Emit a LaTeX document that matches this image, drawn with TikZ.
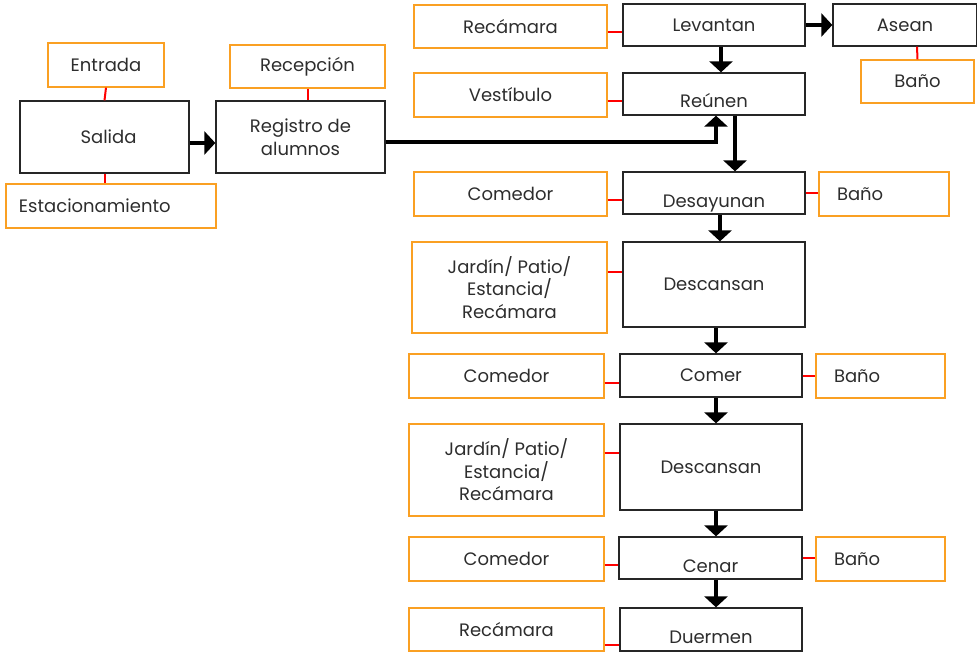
\documentclass[tikz,border=0pt]{standalone}
\usepackage{fontspec}
\setmainfont{Poppins}
\usetikzlibrary{arrows.meta}
\definecolor{boxorange}{RGB}{250,160,35}
\definecolor{inktext}{RGB}{45,45,45}
\newcommand{\lowtext}[2]{\raisebox{#1}[0pt][0pt]{#2}}
\begin{document}
\begin{tikzpicture}[x=1pt, y=-1pt,
        font=\fontsize{18}{22.5}\selectfont, text=inktext,
        mainbox/.style={draw=black!85, line width=1.3pt, minimum width=182pt, minimum height=42pt, align=center, inner sep=0pt},
        placebox/.style={draw=boxorange, line width=1.3pt, minimum width=193pt, minimum height=44pt, align=center, inner sep=0pt},
        sidebox/.style={placebox, minimum width=0pt, text width=93pt, inner xsep=18pt, align=left},
        link/.style={draw=red, line width=2pt},
        flow/.style={draw=black, line width=3.5pt, -{Triangle[length=11pt,width=23pt]}}]
    \useasboundingbox (0,0) rectangle (977,651);
    % izquierda
    \node[placebox, minimum width=116pt] (ent) at (106,65) {Entrada};
    \node[mainbox, minimum width=169pt, minimum height=72pt] (sal) at (104.5,137) {\hspace{8pt}Salida};
    \node[placebox, minimum width=210pt, text width=184pt, align=left] (est) at (111,206) {Estacionamiento};
    \node[placebox, minimum width=155pt, minimum height=43pt] (rcp) at (307.5,66.5) {Recepción};
    \node[mainbox, minimum width=169pt, minimum height=72pt] (reg) at (300.5,137) {Registro de\\alumnos};
    % columna de actividades
    \node[placebox, minimum height=43pt] (rec1) at (510.5,26.5) {Recámara};
    \node[mainbox] (lev) at (714,25) {Levantan};
    \node[mainbox, minimum width=144pt] (ase) at (905,25) {Asean};
    \node[placebox, minimum width=113pt, minimum height=43pt] (ban1) at (917.5,81.5) {Baño};
    \node[placebox] (ves) at (510.5,95) {Vestíbulo};
    \node[mainbox] (reu) at (714,94) {\lowtext{-13pt}{Reúnen}};
    \node[placebox] (com1) at (510.5,194) {Comedor};
    \node[mainbox] (des) at (714,193) {\lowtext{-14pt}{Desayunan}};
    \node[sidebox, text width=94pt, inner xsep=18pt] (ban2) at (884,194) {Baño};
    \node[placebox, minimum width=195pt, minimum height=91pt] (jar1) at (509.5,287.5) {Jardín/ Patio/\\Estancia/\\Recámara};
    \node[mainbox, minimum height=85pt] (dsc1) at (714,284.5) {Descansan};
    \node[placebox, minimum width=195pt] (com2) at (506.5,376) {Comedor};
    \node[mainbox, minimum height=43pt] (cmr) at (711,375.5) {Comer};
    \node[sidebox] (ban3) at (880.5,376) {Baño};
    \node[placebox, minimum width=195pt, minimum height=92pt] (jar2) at (506.5,470) {Jardín/ Patio/\\Estancia/\\Recámara};
    \node[mainbox, minimum height=86pt] (dsc2) at (711,467) {Descansan};
    \node[placebox, minimum width=195pt] (com3) at (506.5,559) {Comedor};
    \node[mainbox, minimum width=183pt] (cen) at (710.5,558) {\lowtext{-14pt}{Cenar}};
    \node[sidebox] (ban4) at (880.5,559) {Baño};
    \node[placebox, minimum width=195pt, minimum height=43pt] (rec2) at (506.5,629.5) {Recámara};
    \node[mainbox, minimum height=43pt] (due) at (711,629.5) {\lowtext{-13.5pt}{Duermen}};
    % lineas rojas
    \draw[link] (ent.south) -- (sal.north);
    \draw[link] (sal.south) -- (sal.south |- est.north);
    \draw[link] (rcp.south) -- (rcp.south |- reg.north);
    \draw[link] ([xshift=12pt]ase.south) -- (ban1.north);
    \draw[link] ([yshift=-5.5pt]rec1.east) -- ([yshift=-5.5pt]rec1.east -| lev.west);
    \draw[link] ([yshift=-6pt]ves.east) -- ([yshift=-6pt]ves.east -| reu.west);
    \draw[link] ([yshift=-6pt]com1.east) -- ([yshift=-6pt]com1.east -| des.west);
    \draw[link] (des.east) -- (des.east -| ban2.west);
    \draw[link] ([yshift=16pt]jar1.east) -- ([yshift=16pt]jar1.east -| dsc1.west);
    \draw[link] ([yshift=-7pt]com2.east) -- ([yshift=-7pt]com2.east -| cmr.west);
    \draw[link] (cmr.east) -- (cmr.east -| ban3.west);
    \draw[link] ([yshift=17pt]jar2.east) -- ([yshift=17pt]jar2.east -| dsc2.west);
    \draw[link] ([yshift=-6pt]com3.east) -- ([yshift=-6pt]com3.east -| cen.west);
    \draw[link] (cen.east) -- (cen.east -| ban4.west);
    \draw[link] ([yshift=-15.5pt]rec2.east) -- ([yshift=-15.5pt]rec2.east -| due.west);
    % flechas
    \draw[flow] ([yshift=-6pt]sal.east) -- ([yshift=-6pt]sal.east -| reg.west);
    \draw[flow] ([yshift=-5pt]reg.east) -| ([xshift=2pt]reu.south);
    \draw[flow] (lev.east) -- (ase.west);
    \draw[flow] ([xshift=7pt]lev.south) -- ([xshift=7pt]lev.south |- reu.north);
    \draw[flow] ([xshift=21pt]reu.south) -- ([xshift=21pt]reu.south |- des.north);
    \draw[flow] ([xshift=6pt]des.south) -- ([xshift=6pt]des.south |- dsc1.north);
    \draw[flow] ([xshift=2pt]dsc1.south) -- ([xshift=2pt]dsc1.south |- cmr.north);
    \draw[flow] ([xshift=5pt]cmr.south) -- ([xshift=5pt]cmr.south |- dsc2.north);
    \draw[flow] ([xshift=5pt]dsc2.south) -- ([xshift=5pt]dsc2.south |- cen.north);
    \draw[flow] ([xshift=5.5pt]cen.south) -- ([xshift=5.5pt]cen.south |- due.north);
\end{tikzpicture}
\end{document}
